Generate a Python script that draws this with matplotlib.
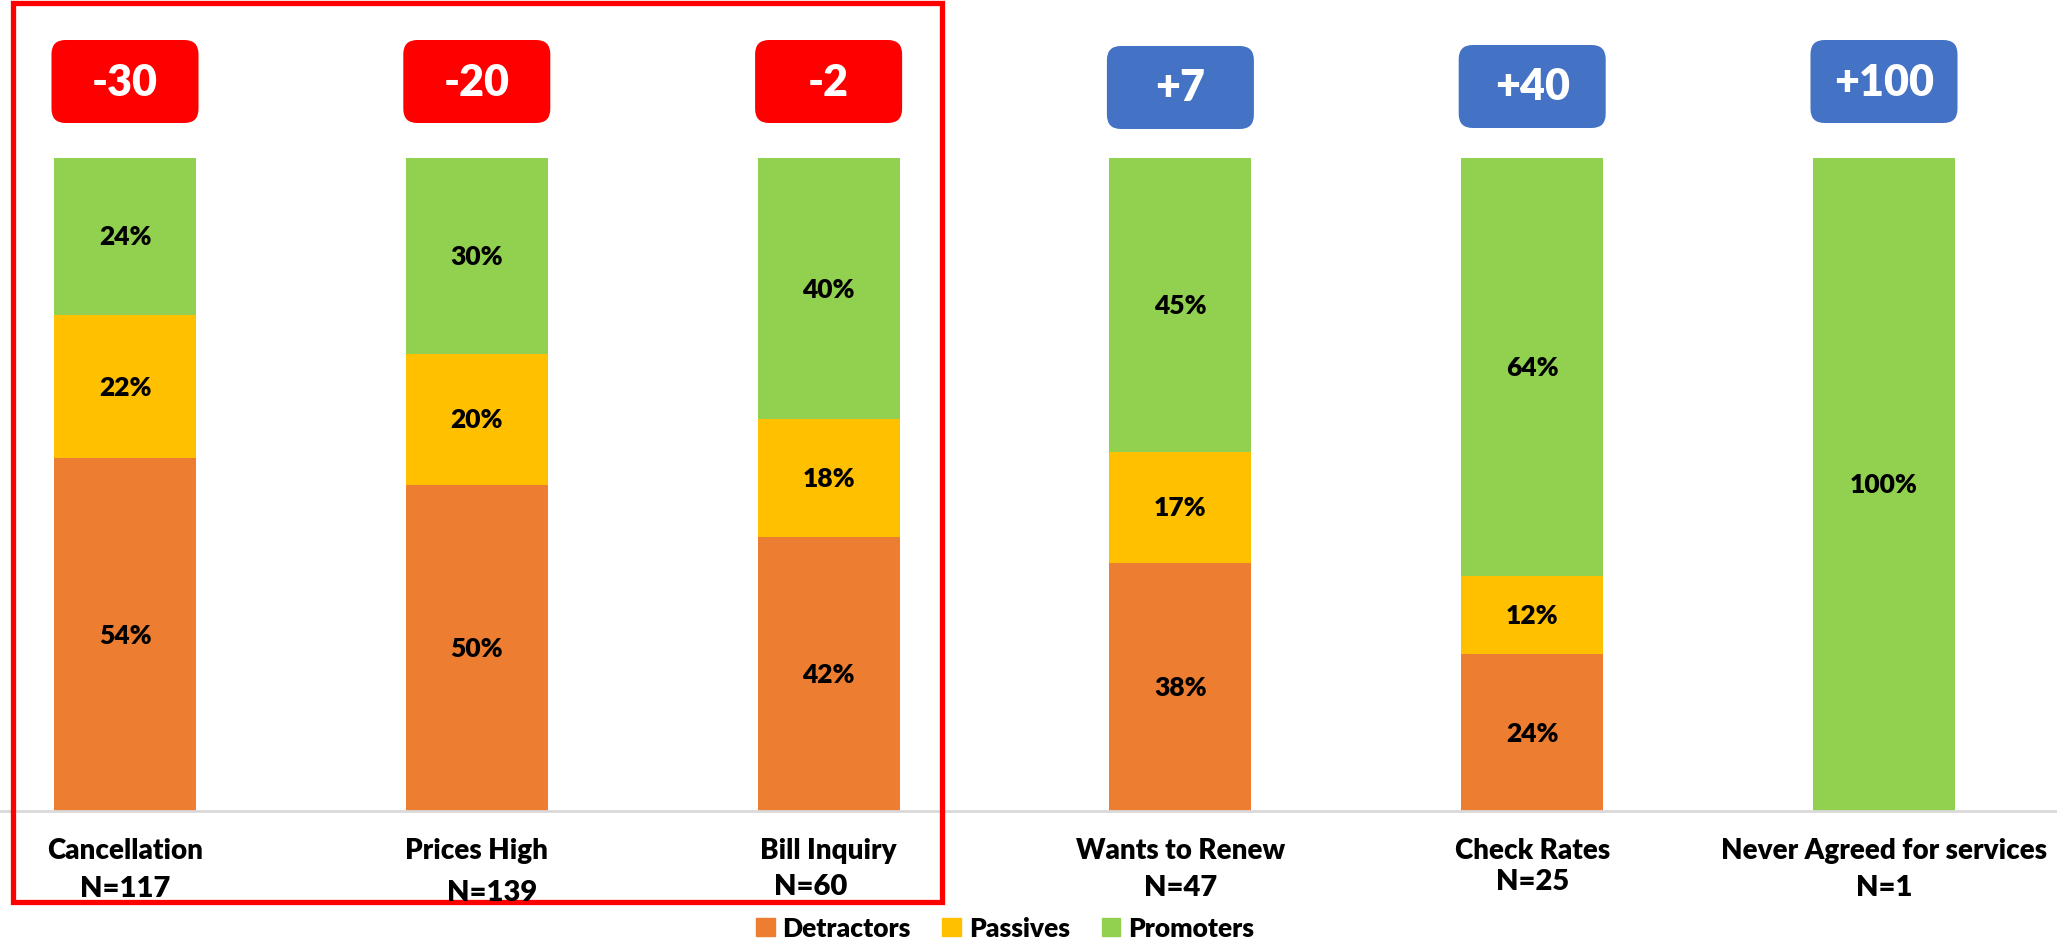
import matplotlib.pyplot as plt
from matplotlib.patches import FancyBboxPatch, Rectangle, Patch

plt.rcParams['font.family'] = ['Liberation Sans Narrow', 'Lato', 'DejaVu Sans']
plt.rcParams['font.weight'] = 'heavy'

categories = ['Cancellation', 'Prices High', 'Bill Inquiry',
              'Wants to Renew', 'Check Rates', 'Never Agreed for services']
counts = [117, 139, 60, 47, 25, 1]
detractors = [54, 50, 42, 38, 24, 0]
passives = [22, 20, 18, 17, 12, 0]
promoters = [24, 30, 40, 45, 64, 100]
nps = [-30, -20, -2, 7, 40, 100]

C_DET = '#ED7D31'
C_PAS = '#FFC000'
C_PRO = '#92D050'
C_NEG = '#FF0000'
C_POS = '#4472C4'

W, H = 2057, 945
fig = plt.figure(figsize=(W / 100, H / 100), dpi=100)

# axes fill the width; 0..100 maps to the bar area, headroom for the badges
base_px, top_px = 812, 159
ax_bottom = (H - base_px) / H
unit_px = (base_px - top_px) / 100.0
ax = fig.add_axes([0, ax_bottom, 1, 1 - ax_bottom])
ymax = base_px / unit_px
ax.set_ylim(0, ymax)

step_px, first_px = 351.8, 125
ax.set_xlim(-first_px / step_px, (W - first_px) / step_px)
ax.axis('off')

x = list(range(len(categories)))
bw = 142 / step_px
bottoms2 = [d + p for d, p in zip(detractors, passives)]
ax.bar(x, detractors, width=bw, color=C_DET)
ax.bar(x, passives, width=bw, bottom=detractors, color=C_PAS)
ax.bar(x, promoters, width=bw, bottom=bottoms2, color=C_PRO)

def pct_labels(vals, bottoms):
    for xi, v, b in zip(x, vals, bottoms):
        if v > 0:
            ax.text(xi, b + v / 2, f'{v}%', ha='center', va='center',
                    fontsize=19, fontweight='heavy', color='black')

pct_labels(detractors, [0] * len(x))
pct_labels(passives, detractors)
pct_labels(promoters, bottoms2)

# baseline
ax.axhline(0, color='#D9D9D9', lw=2, clip_on=False)

# NPS badges
badge_w = 147 / step_px
badge_top_px = [41, 41, 41, 47, 46, 41]
badge_h_px = 83
aspect = step_px / unit_px
for xi, score, tpx in zip(x, nps, badge_top_px):
    y1 = (base_px - tpx) / unit_px
    y0 = y1 - badge_h_px / unit_px
    col = C_NEG if score < 0 else C_POS
    box = FancyBboxPatch((xi - badge_w / 2, y0), badge_w, y1 - y0,
                         boxstyle='round,pad=0,rounding_size=0.04',
                         mutation_aspect=aspect, fc=col, ec='none',
                         clip_on=False)
    ax.add_patch(box)
    ax.text(xi, (y0 + y1) / 2, f'{score:+d}', ha='center', va='center',
            fontsize=31, fontweight='heavy', color='white')

# category names and sample sizes
n_dx = [0, 15, -18, 0, 0, 0]
n_y = [889, 893, 887, 888, 882, 888]
for xi, name, n, dx2, ny in zip(x, categories, counts, n_dx, n_y):
    cx = (first_px + step_px * xi) / W
    fig.text(cx, 1 - 851 / H, name, ha='center', va='center',
             fontsize=20, fontweight='heavy')
    fig.text(cx + dx2 / W, 1 - ny / H, f'N={n}', ha='center', va='center',
             fontsize=21, fontweight='heavy')

# highlight frame around the negative group
fig.patches.append(Rectangle((13 / W, 1 - 903 / H), 929 / W, 899 / H,
                             transform=fig.transFigure, fill=False,
                             ec=C_NEG, lw=3.8))

handles = [Patch(color=C_DET, label='Detractors'),
           Patch(color=C_PAS, label='Passives'),
           Patch(color=C_PRO, label='Promoters')]
fig.legend(handles=handles, loc='center', bbox_to_anchor=(1005 / W, 1 - 929 / H),
           ncol=3, frameon=False, fontsize=19, handlelength=0.7,
           handleheight=0.7, handletextpad=0.3, columnspacing=1.2,
           prop={'weight': 'heavy', 'size': 19})

fig.savefig('out.png', dpi=100)
